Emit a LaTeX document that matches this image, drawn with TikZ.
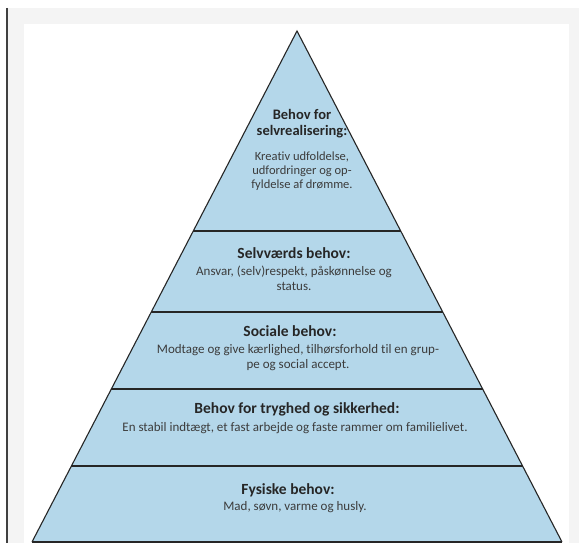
\documentclass[tikz,border=0pt]{standalone}
\usepackage{fontspec}
\setmainfont{Carlito}[Ligatures={NoCommon}]
\definecolor{pyrblue}{HTML}{B4D7EA}
\definecolor{framegray}{HTML}{F4F4F4}
\definecolor{bodygray}{HTML}{3C3C3C}

\begin{document}
\begin{tikzpicture}[x=1pt,y=-1pt,
	levelhead/.style={font=\bfseries\fontsize{15.5}{16.5}\selectfont, text=black!85, align=center, inner sep=0pt},
	levelbody/.style={font=\fontsize{13}{15}\selectfont, text=bodygray, align=center, inner sep=0pt}]
	\useasboundingbox (0,0) rectangle (579,543);
	% frame round the picture
	\fill[framegray] (8,8) rectangle (579,543);
	\fill[white] (24,24) rectangle (569,543);
	\draw[black!75, line width=1.6pt] (7,8) -- (7,543);
	% pyramid
	\coordinate (apex) at (297,31);
	\coordinate (baseL) at (32,542);
	\coordinate (baseR) at (562,542);
	\fill[pyrblue] (apex) -- (baseR) -- (baseL) -- cycle;
	\foreach \yy in {231,312,389,466}
		\draw[black!85, line width=1.4pt] ({297-0.5186*(\yy-31)},\yy) -- ({297+0.5186*(\yy-31)},\yy);
	\draw[black!85, line width=1.1pt, line join=miter] (baseL) -- (apex) -- (baseR);
	\draw[black!85, line width=1.4pt] (baseL) -- (baseR);
	% texts
	\node[levelhead, font=\bfseries\fontsize{14.5}{16}\selectfont] (selvH) at (302,124) {Behov for\\selvrealisering:};
	\node[levelbody, font=\fontsize{12.5}{14}\selectfont] (selvB) at (302,171) {Kreativ udfoldelse,\\udfordringer og op-\\fyldelse af drømme.};
	\node[levelhead] (vaerdH) at (294,253) {Selvværds behov:};
	\node[levelbody] (vaerdB) at (294,278) {Ansvar, (selv)respekt, påskønnelse og\\status.};
	\node[levelhead] (socH) at (290,331) {Sociale behov:};
	\node[levelbody] (socB) at (298,358) {Modtage og give kærlighed, tilhørsforhold til en grup-\\pe og social accept.};
	\node[levelhead] (trygH) at (297,409) {Behov for tryghed og sikkerhed:};
	\node[levelbody] (trygB) at (295,428) {En stabil indtægt, et fast arbejde og faste rammer om familielivet.};
	\node[levelhead] (fysH) at (288,490) {Fysiske behov:};
	\node[levelbody] (fysB) at (295,507) {Mad, søvn, varme og husly.};
\end{tikzpicture}
\end{document}
